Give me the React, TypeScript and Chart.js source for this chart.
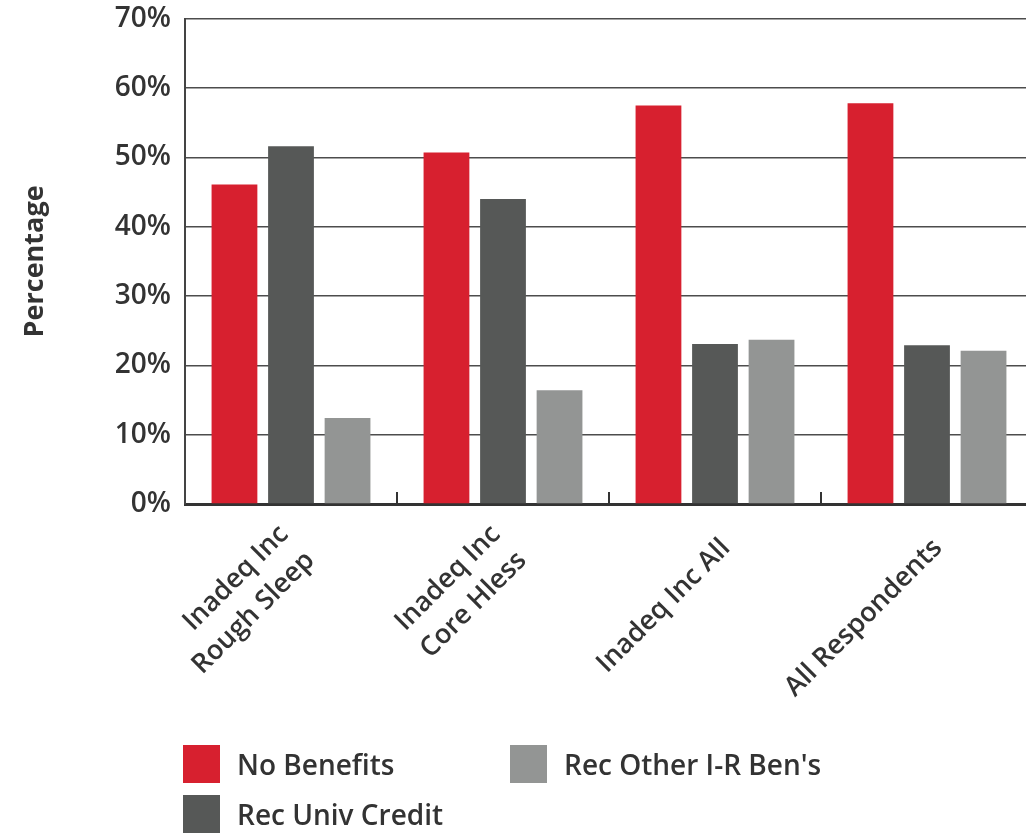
import React, { useEffect, useRef } from "react";
import { Chart, registerables } from "chart.js";

Chart.register(...registerables);

const categories: string[][] = [
  ["Inadeq Inc", "Rough Sleep"],
  ["Inadeq Inc", "Core Hless"],
  ["", "Inadeq Inc All"],
  ["", "All Respondents"],
];
const seriesNames = ["No Benefits", "Rec Univ Credit", "Rec Other I-R Ben's"];
const noBenefits = [46.1, 50.7, 57.5, 57.8];
const recUnivCredit = [51.6, 44.0, 23.1, 22.9];
const recOtherIR = [12.4, 16.4, 23.7, 22.1];
const yTicks = [0, 10, 20, 30, 40, 50, 60, 70];

const RED = "#d7202f";
const DARK = "#565857";
const LIGHT = "#939594";
const TEXT = "#333333";
const FONT = "'Open Sans', sans-serif";

const boundaryTicks = {
  id: "boundaryTicks",
  afterDatasetsDraw(chart: any) {
    const xs = chart.scales.x;
    const ctx = chart.ctx;
    const bottom = chart.chartArea.bottom;
    ctx.save();
    ctx.strokeStyle = "#333333";
    ctx.lineWidth = 2;
    for (let i = 1; i < categories.length; i++) {
      const x = (xs.getPixelForTick(i - 1) + xs.getPixelForTick(i)) / 2;
      ctx.beginPath();
      ctx.moveTo(x, bottom - 12);
      ctx.lineTo(x, bottom);
      ctx.stroke();
    }
    ctx.restore();
  },
};

export default function App() {
  const ref = useRef<HTMLCanvasElement | null>(null);
  useEffect(() => {
    if (!ref.current) return;
    const chart = new Chart(ref.current, {
      type: "bar",
      data: {
        labels: categories,
        datasets: [
          { label: seriesNames[0], data: noBenefits, backgroundColor: RED },
          { label: seriesNames[1], data: recUnivCredit, backgroundColor: DARK },
          { label: seriesNames[2], data: recOtherIR, backgroundColor: LIGHT },
        ],
      },
      options: {
        animation: false,
        responsive: false,
        devicePixelRatio: 1,
        layout: { padding: { top: 5, left: 0, right: 3, bottom: 34 } },
        plugins: { legend: { display: false }, tooltip: { enabled: false } },
        datasets: { bar: { categoryPercentage: 0.8, barPercentage: 0.81 } },
        scales: {
          x: {
            grid: { color: "rgba(0,0,0,0)", drawTicks: false },
            border: { display: true, color: "#333333", width: 3 },
            ticks: {
              autoSkip: false,
              maxRotation: 45,
              minRotation: 45,
              color: TEXT,
              padding: 13,
              labelOffset: -7,
              font: (c: any) => {
                const single = categories[c.index] && categories[c.index][0] === "";
                return {
                  family: FONT,
                  size: 27,
                  weight: 600,
                  lineHeight: single ? 25.3 / 27 : 1.37,
                };
              },
            },
            afterFit: (s: any) => {
              s.height = 300;
            },
          },
          y: {
            min: 0,
            max: 70,
            afterBuildTicks: (s: any) => {
              s.ticks = yTicks.map((v) => ({ value: v }));
            },
            grid: { color: "#4d4d4d", lineWidth: 1.5, drawTicks: false },
            border: { display: true, color: "#444444", width: 2 },
            ticks: {
              color: TEXT,
              padding: 14,
              font: { family: FONT, size: 28, weight: 600 },
              callback: (v: any) => v + "%",
            },
            title: {
              display: true,
              text: "Percentage",
              color: TEXT,
              padding: { top: 19, bottom: 0 },
              font: { family: FONT, size: 27, weight: "bold" },
            },
            afterFit: (s: any) => {
              s.width = 185;
            },
          },
        },
      },
      plugins: [boundaryTicks],
    });
    return () => chart.destroy();
  }, []);

  const legendItem = (name: string, color: string, left: number, top: number) => (
    <div
      key={name}
      style={{ position: "absolute", left, top, display: "flex", alignItems: "center" }}
    >
      <div style={{ width: 37, height: 38, background: color }} />
      <span
        style={{
          marginLeft: 17,
          fontFamily: FONT,
          fontSize: 28,
          fontWeight: 600,
          color: TEXT,
          whiteSpace: "nowrap",
        }}
      >
        {name}
      </span>
    </div>
  );

  return (
    <div
      style={{
        position: "fixed",
        left: 0,
        top: 0,
        width: 1026,
        height: 838,
        overflow: "hidden",
        background: "#ffffff",
      }}
    >
      <canvas
        ref={ref}
        width={1036}
        height={850}
        style={{ position: "absolute", left: 0, top: -12, width: 1036, height: 850 }}
      />
      {legendItem(seriesNames[0], RED, 183, 745)}
      {legendItem(seriesNames[2], LIGHT, 510, 745)}
      {legendItem(seriesNames[1], DARK, 183, 795)}
    </div>
  );
}
